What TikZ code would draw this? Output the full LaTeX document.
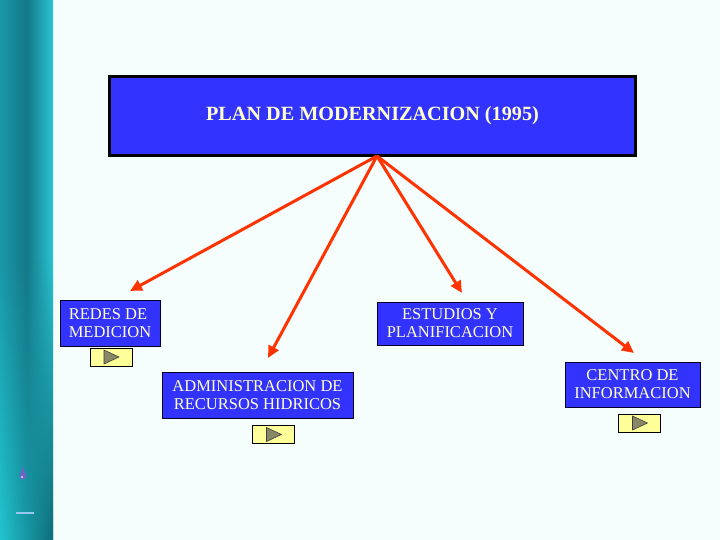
\documentclass[tikz,border=0pt]{standalone}
\usepackage{fontspec}
\setmainfont{Liberation Serif}
\usetikzlibrary{arrows.meta,fadings}
\definecolor{boxblue}{RGB}{51,51,255}
\definecolor{txtyel}{RGB}{255,255,204}
\definecolor{arrred}{RGB}{255,51,0}
\definecolor{btnyel}{RGB}{255,255,153}
\definecolor{triol}{RGB}{136,136,102}
\definecolor{bgc}{RGB}{246,253,253}
\definecolor{barA}{RGB}{26,152,168}
\definecolor{barB}{RGB}{20,120,136}
\definecolor{barC}{RGB}{42,196,210}
\definecolor{barD}{RGB}{34,196,208}
\definecolor{barE}{RGB}{14,108,120}
\definecolor{dropc}{RGB}{110,100,200}
\definecolor{dashc}{RGB}{150,200,240}
\begin{document}
\begin{tikzpicture}[x=1pt,y=-1pt,
  bluebox/.style={draw=black!85!blue, line width=1pt, fill=boxblue, text=txtyel,
    inner sep=0pt, font=\fontsize{16.5}{18}\selectfont, align=center},
  mainbox/.style={bluebox, draw=black, line width=3pt, font=\bfseries\fontsize{20.2}{22}\selectfont},
  btn/.style={draw=black, line width=0.8pt, fill=btnyel, minimum width=42pt, minimum height=18pt, inner sep=0pt},
  tri/.style={fill=triol, draw=black!75, line width=0.6pt},
  conn/.style={draw=arrred, line width=3pt, -{Triangle[length=12pt,width=11pt]}}]
\useasboundingbox (0,0) rectangle (720,540);
\fill[bgc] (0,0) rectangle (720,540);
% left bar
\shade[left color=barA, right color=barC, middle color=barB] (0,0) rectangle (53,540);
\shade[left color=barD, right color=barE, path fading=north] (0,260) rectangle (53,540);
\fill[dropc] (23,476) circle (3.5pt);
\fill[dropc] (20.5,474) -- (23,466) -- (25.5,474) -- cycle;
\fill[white!80!dropc] (22,477) circle (1.2pt);
\draw[dashc, line width=2.5pt] (16,513) -- (34,513);
% boxes
\node[mainbox, minimum width=526pt, minimum height=79pt] (main) at (372.5,116) {PLAN DE MODERNIZACION (1995)};
\node[bluebox, minimum width=100pt, minimum height=46pt, align=left] (redes) at (110,323) {REDES DE\\MEDICION};
\node[bluebox, minimum width=146pt, minimum height=43pt] (estudios) at (450,323.5) {ESTUDIOS Y\\PLANIFICACION};
\node[bluebox, minimum width=191pt, minimum height=46pt] (admin) at (257.5,395) {ADMINISTRACION DE\\RECURSOS HIDRICOS};
\node[bluebox, minimum width=135pt, minimum height=45pt] (centro) at (632.5,384.5) {CENTRO DE\\INFORMACION};
% buttons
\node[btn] (b1) at (111,357) {};
\node[btn] (b2) at (273.5,434.5) {};
\node[btn] (b3) at (639.5,423) {};
\foreach \b in {b1,b2,b3}{
  \draw[tri] ([shift={(-7,-7)}]\b.center) -- ([shift={(8,0)}]\b.center) -- ([shift={(-7,7)}]\b.center) -- cycle;
}
% connectors
\coordinate (hub) at (377,156);
\coordinate (t1) at (130,291);
\coordinate (t2) at (268,358);
\coordinate (t3) at (462,293);
\coordinate (t4) at (634,353);
\foreach \t in {t1,t2,t3,t4}{
  \draw[conn] (hub) -- (\t);
}
\end{tikzpicture}
\end{document}
